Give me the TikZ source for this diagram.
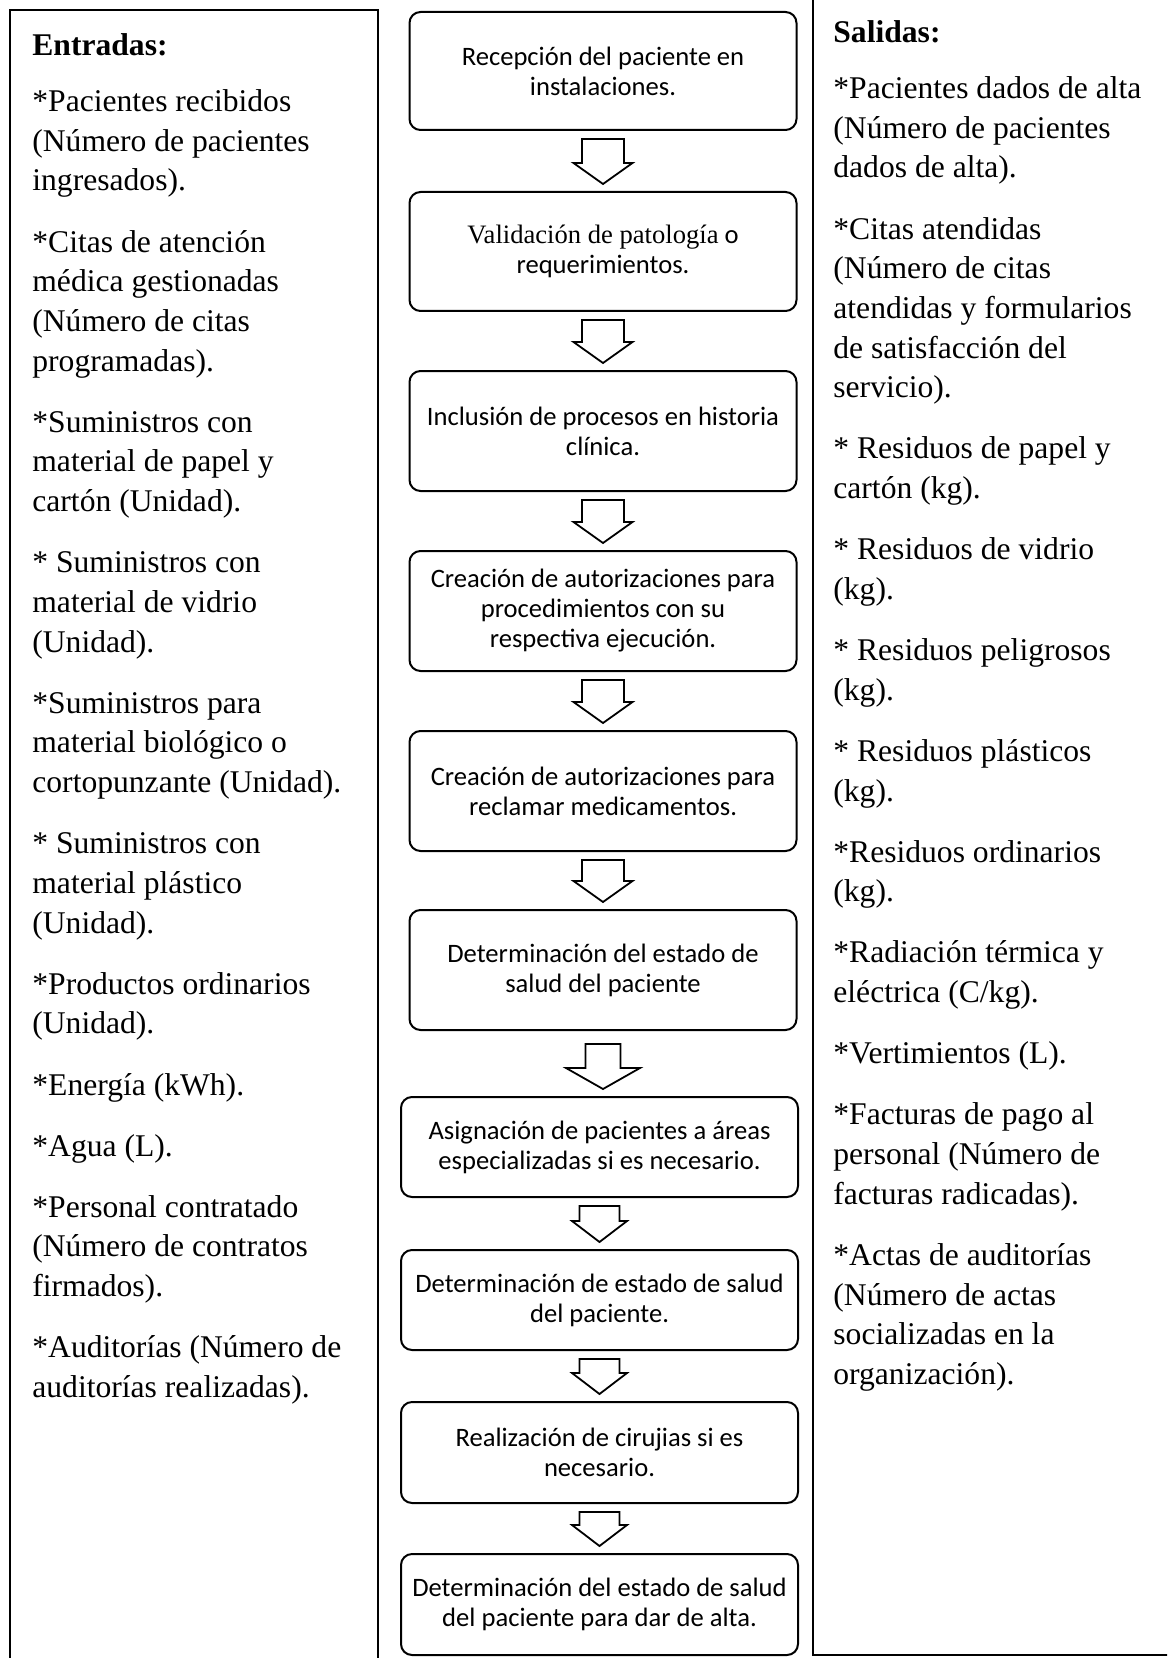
\documentclass[tikz,border=0pt]{standalone}
\usepackage{fontspec}
\setmainfont{Liberation Serif}
\newfontfamily\calibri{Carlito}
\usetikzlibrary{positioning,calc}

\newcommand{\flecha}[5][8]{%
  \coordinate (fa) at ($(#2.south)+(0,#1)$);
  \coordinate (fb) at ($(#2.south |- #3.north)+(0,-7)$);
  \draw[bloque] ($(fa)+(-#4,0)$) -- ($(fb)+(-#4,-21)$) -- ($(fb)+(-#5,-21)$) -- (fb)
    -- ($(fb)+(#5,-21)$) -- ($(fb)+(#4,-21)$) -- ($(fa)+(#4,0)$) -- cycle;}

\begin{document}
\begin{tikzpicture}[
  x=0.5pt, y=-0.5pt,
  paso/.style={draw, rounded corners=5.5pt, line width=1pt, align=center,
    inner sep=2pt, font=\calibri\fontsize{13.3}{15}\selectfont,
    minimum width=193.5pt, minimum height=60pt},
  pasobajo/.style={paso, minimum width=198.5pt, minimum height=50pt},
  bloque/.style={draw, line width=0.9pt, line join=miter},
  columna/.style={anchor=north west, align=left, inner sep=0pt,
    font=\fontsize{15.8}{19.85}\selectfont},
  marco/.style={draw, line width=1.2pt}
  ]
  \fill[white] (0,0) rectangle (1167,1658);
  \useasboundingbox (0,0) rectangle (1167,1658);
  \clip (0,0) rectangle (1167,1658);
  \draw[marco] (10,10) rectangle (378,1680);
  \draw[marco] (813,-20) rectangle (1190,1655);

  \node[columna] (entradas) at (32,33.5) {\textbf{Entradas:}\\[8pt]
    *Pacientes recibidos\\(Número de pacientes\\ingresados).\\[10.7pt]
    *Citas de atención\\médica gestionadas\\(Número de citas\\programadas).\\[10.7pt]
    *Suministros con\\material de papel y\\cartón (Unidad).\\[10.7pt]
    * Suministros con\\material de vidrio\\(Unidad).\\[10.7pt]
    *Suministros para\\material biológico o\\cortopunzante (Unidad).\\[10.7pt]
    * Suministros con\\material plástico\\(Unidad).\\[10.7pt]
    *Productos ordinarios\\(Unidad).\\[10.7pt]
    *Energía (kWh).\\[10.7pt]
    *Agua (L).\\[10.7pt]
    *Personal contratado\\(Número de contratos\\firmados).\\[10.7pt]
    *Auditorías (Número de\\auditorías realizadas).};

  \node[columna] (salidas) at (833,20.5) {\textbf{Salidas:}\\[8pt]
    *Pacientes dados de alta\\(Número de pacientes\\dados de alta).\\[10.7pt]
    *Citas atendidas\\(Número de citas\\atendidas y formularios\\de satisfacción del\\servicio).\\[10.7pt]
    * Residuos de papel y\\cartón (kg).\\[10.7pt]
    * Residuos de vidrio\\(kg).\\[10.7pt]
    * Residuos peligrosos\\(kg).\\[10.7pt]
    * Residuos plásticos\\(kg).\\[10.7pt]
    *Residuos ordinarios\\(kg).\\[10.7pt]
    *Radiación térmica y\\eléctrica (C/kg).\\[10.7pt]
    *Vertimientos (L).\\[10.7pt]
    *Facturas de pago al\\personal (Número de\\facturas radicadas).\\[10.7pt]
    *Actas de auditorías\\(Número de actas\\socializadas en la\\organización).};

  \node[paso, minimum height=59pt] (recepcion) at (603,71) {Recepción del paciente en\\instalaciones.};
  \node[paso, minimum height=59.5pt, below=30pt of recepcion] (validacion) {{\rmfamily Validación de patología} o\\requerimientos.};
  \node[paso, below=29pt of validacion] (historia) {Inclusión de procesos en historia\\clínica.};
  \node[paso, below=29pt of historia] (autoriza) {Creación de autorizaciones para\\procedimientos con su\\respectiva ejecución.};
  \node[paso, below=29pt of autoriza] (medicamentos) {Creación de autorizaciones para\\reclamar medicamentos.};
  \node[paso, below=28.5pt of medicamentos] (estado) {Determinación del estado de\\salud del paciente};
  \node[pasobajo, below=32.5pt of estado, xshift=-1.75pt] (areas) {Asignación de pacientes a áreas\\especializadas si es necesario.};
  \node[pasobajo, below=25.5pt of areas] (salud) {Determinación de estado de salud\\del paciente.};
  \node[pasobajo, minimum height=50.5pt, below=25pt of salud] (cirugia) {Realización de cirujias si es\\necesario.};
  \node[pasobajo, minimum height=50.5pt, below=24.5pt of cirugia] (alta) {Determinación del estado de salud\\del paciente para dar de alta.};

  \flecha{recepcion}{validacion}{21}{29.5}
  \flecha{validacion}{historia}{21}{29.5}
  \flecha{historia}{autoriza}{21}{29.5}
  \flecha{autoriza}{medicamentos}{21}{29.5}
  \flecha{medicamentos}{estado}{21}{29.5}
  \flecha[13]{estado}{areas}{17.5}{37}
  \flecha{areas}{salud}{20}{27.5}
  \flecha{salud}{cirugia}{20}{27.5}
  \flecha{cirugia}{alta}{20}{27.5}
\end{tikzpicture}
\end{document}
